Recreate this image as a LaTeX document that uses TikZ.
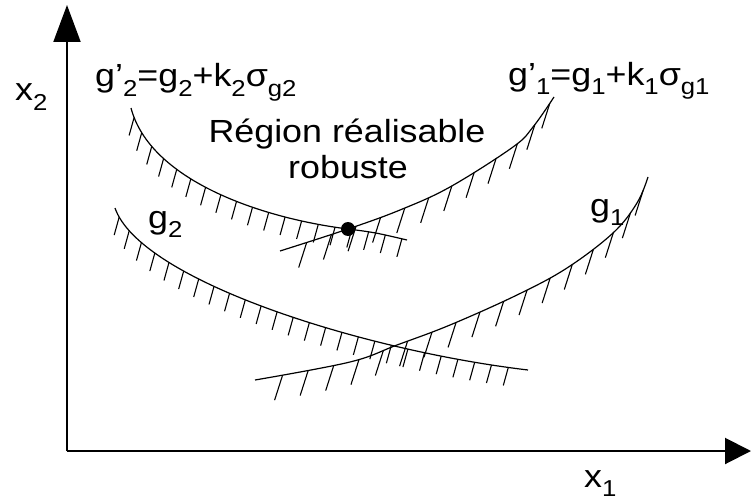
\documentclass[tikz,border=0pt]{standalone}
\usepackage{fontspec}
\setmainfont[FakeStretch=1.12]{Liberation Sans}
\usetikzlibrary{decorations.markings,arrows.meta}
\newcommand\sbs[1]{\raisebox{-0.3em}{\fontsize{23}{23}\selectfont #1}}
\begin{document}
\begin{tikzpicture}[x=1pt,y=-1pt,
  lbl/.style={inner sep=0pt, font=\fontsize{32}{36}\selectfont},
  curve/.style={line width=1.2pt},
  axis/.style={line width=2pt},
  hatchshort/.style={postaction={decorate, decoration={markings,
     mark=between positions 10pt and -5pt step 17pt with {\pgftransformresetnontranslations
       \draw[line width=1.1pt] (0pt,0pt) -- (-5pt,-18pt);}}}},
  hatchlong/.style={postaction={decorate, decoration={markings,
     mark=between positions 28pt and -5pt step 26pt with {\pgftransformresetnontranslations
       \draw[line width=1.1pt] (0pt,0pt) -- (-8pt,-25pt);}}}}
]
\useasboundingbox (0,0) rectangle (751,500);
% axes
\coordinate (O) at (67,451);
\coordinate (Y) at (67,5);
\coordinate (X) at (751,451);
\draw[axis, -{Triangle[length=37pt,width=27pt]}] (O) -- (Y);
\draw[axis, -{Triangle[length=26pt,width=26pt]}] (O) -- (X);
\node[lbl, anchor=base west] (x2) at (15,101) {x\sbs{2}};
\node[lbl, anchor=base west] (x1) at (584,487) {x\sbs{1}};
% curves
\coordinate (P0) at (348,229);
\draw[curve, hatchshort] (131,108) .. controls (150,180) and (260,218) .. (P0)
  .. controls (375,232.5) .. (407,240);
\draw[curve, hatchlong] plot[smooth, tension=0.6] coordinates
  {(280,251) (348,229) (400,210) (450,187) (513,147) (533,127) (554,97)};
\draw[curve, hatchshort] (115,208) .. controls (140,280) and (360,350) .. (528,370);
\draw[curve, hatchlong] plot[smooth, tension=0.6] coordinates
  {(255,380) (350,362) (397,345) (450,325) (517,295) (567,268) (613,233) (637,203) (648,177)};
\node[circle, fill=black, inner sep=0pt, minimum size=14pt] (P) at (P0) {};
% labels
\node[lbl, anchor=base west] (gp2) at (95,87) {g’\sbs{2}=g\sbs{2}+k\sbs{2}σ\sbs{g2}};
\node[lbl, anchor=base west] (gp1) at (508,85) {g’\sbs{1}=g\sbs{1}+k\sbs{1}σ\sbs{g1}};
\node[lbl, anchor=base] (reg1) at (347,142) {Région réalisable};
\node[lbl, anchor=base] (reg2) at (348,178) {robuste};
\node[lbl, anchor=base west] (g2) at (148,228) {g\sbs{2}};
\node[lbl, anchor=base west] (g1) at (590,216) {g\sbs{1}};
\end{tikzpicture}
\end{document}
